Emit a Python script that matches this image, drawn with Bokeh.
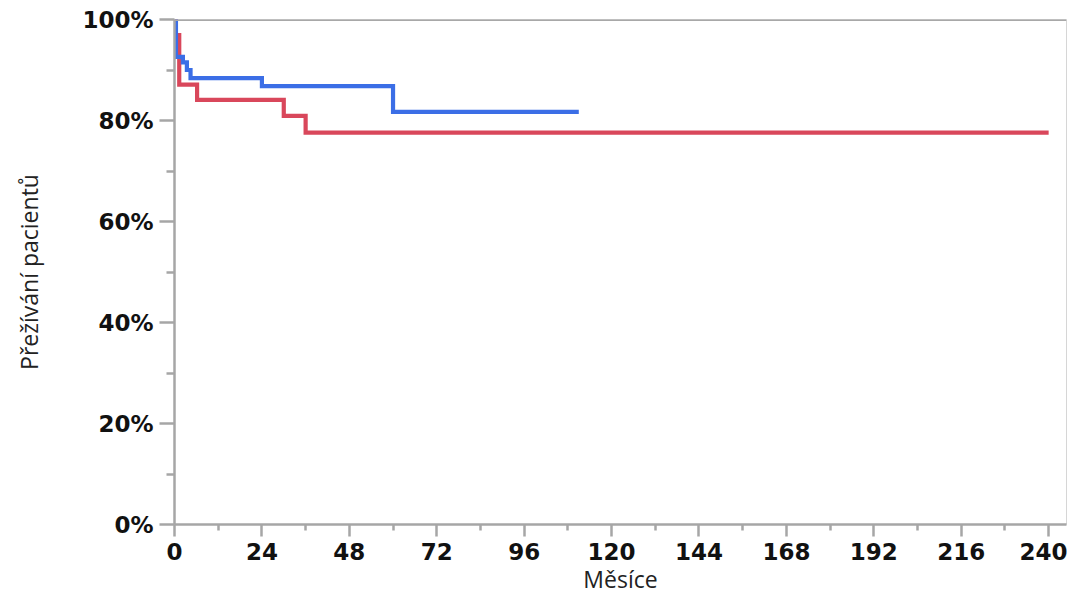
from bokeh.plotting import figure
from bokeh.models import Range1d, NumeralTickFormatter, FixedTicker, Span
from bokeh.embed import file_html
from bokeh.resources import INLINE

# Kaplan-Meier data (months, survival fraction)
blue_t = [0, 0.4, 2.3, 3.4, 4.4, 24, 60, 111]
blue_s = [1.0, 0.926, 0.915, 0.900, 0.884, 0.868, 0.817, 0.817]
red_t = [0, 0.3, 1.3, 6.2, 30, 36, 240]
red_s = [1.0, 0.969, 0.871, 0.841, 0.809, 0.776, 0.776]

x_ticks = [0, 24, 48, 72, 96, 120, 144, 168, 192, 216, 240]
x_minor = [12, 36, 60, 84, 108, 132, 156, 180, 204, 228]
y_ticks = [0, 0.2, 0.4, 0.6, 0.8, 1.0]
y_minor = [0.1, 0.3, 0.5, 0.7, 0.9]

p = figure(width=1067, height=597, output_backend="svg", toolbar_location=None,
           x_range=Range1d(0, 244.9), y_range=Range1d(0, 1.0),
           min_border_left=174, min_border_right=1, min_border_top=19, min_border_bottom=69)
p.xgrid.visible = False
p.ygrid.visible = False
p.outline_line_color = "#d6d6d6"
p.outline_line_width = 1

p.step(red_t, red_s, mode="after", line_color="#d9475b", line_width=4.2, line_join="miter")
p.step(blue_t, blue_s, mode="after", line_color="#3b6ee6", line_width=4.2, line_join="miter")

p.add_layout(Span(location=1.0, dimension="width", line_color="#a8a8a8", line_width=3))

p.xaxis.ticker = FixedTicker(ticks=x_ticks, minor_ticks=x_minor)
p.yaxis.ticker = FixedTicker(ticks=y_ticks, minor_ticks=y_minor)
p.yaxis.formatter = NumeralTickFormatter(format="0%")

for ax in (p.xaxis[0], p.yaxis[0]):
    ax.axis_line_color = "#a6a6a6"
    ax.axis_line_width = 2.5
    ax.major_tick_line_color = "#a6a6a6"
    ax.minor_tick_line_color = "#a6a6a6"
    ax.major_tick_line_width = 2.5
    ax.minor_tick_line_width = 2.5
    ax.major_tick_in = 0
    ax.minor_tick_in = 0
    ax.major_label_text_font = "DejaVu Sans"
    ax.major_label_text_font_style = "bold"
    ax.major_label_text_font_size = "23px"
    ax.major_label_text_color = "#111111"
    ax.axis_label_text_font = "Open Sans"
    ax.axis_label_text_font_style = "normal"
    ax.axis_label_text_font_size = "23px"
    ax.axis_label_text_color = "#222222"

p.xaxis.major_tick_out = 12
p.xaxis.minor_tick_out = 6
p.xaxis.major_label_standoff = 6
p.xaxis.axis_label = "Měsíce"
p.xaxis.axis_label_standoff = 0

p.yaxis.major_tick_out = 15
p.yaxis.minor_tick_out = 8
p.yaxis.major_label_standoff = 6
p.yaxis.axis_label = "Přežívání pacientů"
p.yaxis.axis_label_standoff = 34

open("out.html", "w").write(file_html(p, INLINE))
